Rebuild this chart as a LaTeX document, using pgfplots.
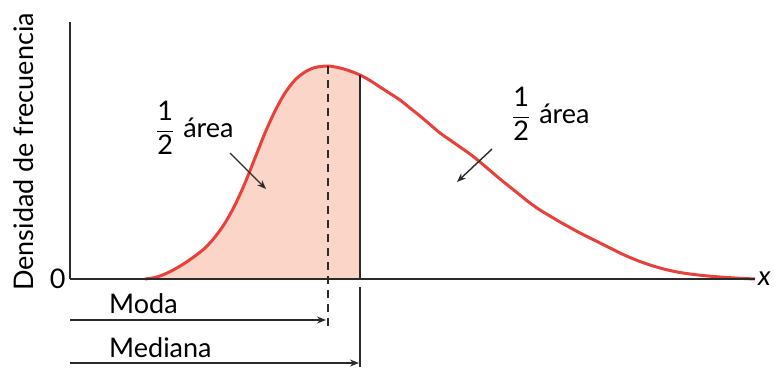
\documentclass[border=0pt]{standalone}
\usepackage{amsmath}
\usepackage{fontspec}
\setmainfont{Lato}
\usepackage{pgfplots}
\pgfplotsset{compat=1.18}
\usetikzlibrary{arrows.meta}
\definecolor{axgray}{HTML}{2B2B2B}
\definecolor{curvered}{HTML}{E8403A}
\definecolor{fillsalmon}{HTML}{FAD5C8}
\newcommand{\fs}{\fontsize{27}{32}\selectfont}
\begin{document}
\begin{tikzpicture}
\useasboundingbox (-70pt,-88pt) rectangle (704pt,279pt);
\begin{axis}[
  scale only axis, width=685pt, height=257pt,
  xmin=70, xmax=755, ymin=0, ymax=257,
  axis lines=left,
  axis line style={-, line width=2.8pt, color=axgray},
  xtick=\empty, ytick={0}, yticklabels={0},
  major tick length=0pt,
  yticklabel style={font=\fs, xshift=-1pt},
  /pgf/number format/assume math mode=true,
  clip=false,
]
\addplot[draw=none, fill=fillsalmon, smooth] coordinates {
(145,0) (155,1.5) (165,5) (175,10) (185,16) (195,23) (205,31) (215,42) (225,56)
(235,74) (245,96) (255,121) (265,146) (275,168) (285,186) (295,199) (305,207)
(315,211.5) (328,213) (340,211) (350,208) (360,204)} -- (axis cs:360,0) -- cycle;
\addplot[color=curvered, line width=3pt, smooth] coordinates {
(145,0) (155,1.5) (165,5) (175,10) (185,16) (195,23) (205,31) (215,42) (225,56)
(235,74) (245,96) (255,121) (265,146) (275,168) (285,186) (295,199) (305,207)
(315,211.5) (328,213) (340,211) (350,208) (360,204) (370,198.5) (380,192)
(390,185.5) (400,179) (410,171) (420,163) (430,154.5) (440,146) (450,139)
(460,132) (470,125) (480,117) (490,108.5) (500,100) (510,92) (520,84) (530,76)
(540,69) (550,63) (560,57) (570,51.5) (580,46) (590,41) (600,36) (610,31)
(620,26) (630,21.5) (640,17.5) (650,14) (660,11) (670,8.5) (680,6.5) (690,5)
(700,3.8) (710,2.8) (720,2) (730,1.3) (740,0.7) (755,0)};
% re-draw baseline over fill
\draw[line width=2.8pt, color=axgray] (axis cs:70,0) -- (axis cs:755,0);
% mode and median lines
\draw[axgray, line width=2pt, dash pattern=on 8pt off 6pt] (axis cs:328,213) -- (axis cs:328,-48);
\draw[axgray, line width=2pt] (axis cs:360,204) -- (axis cs:360,0);
\draw[axgray, line width=2pt] (axis cs:360,-8) -- (axis cs:360,-88);
% arrows below
\draw[axgray, line width=1.4pt, -{Stealth[length=9pt,width=7pt]}] (axis cs:70,-41) -- (axis cs:326,-41);
\draw[axgray, line width=1.4pt, -{Stealth[length=9pt,width=7pt]}] (axis cs:70,-84) -- (axis cs:359,-84);
\node[anchor=base west, inner sep=0pt, font=\fs] at (axis cs:109,-34) {Moda};
\node[anchor=base west, inner sep=0pt, font=\fs] at (axis cs:109,-78) {Mediana};
% half-area labels
\node[anchor=west, inner sep=0pt, font=\fs] at (axis cs:156,151) {$\dfrac{\text{1}}{\text{2}}$\,\,área};
\node[anchor=west, inner sep=0pt, font=\fs] at (axis cs:512,165) {$\dfrac{\text{1}}{\text{2}}$\,\,área};
\draw[axgray, line width=1.4pt, -{Stealth[length=9pt,width=7pt]}] (axis cs:230,126) -- (axis cs:266,90);
\draw[axgray, line width=1.4pt, -{Stealth[length=9pt,width=7pt]}] (axis cs:492,130) -- (axis cs:457,97);
% axis labels
\node[rotate=90, font=\fs] at (axis cs:24,127) {Densidad de frecuencia};
\node[anchor=west, inner sep=0pt, font=\fs\itshape] at (axis cs:758,0) {x};
\end{axis}
\end{tikzpicture}
\end{document}
